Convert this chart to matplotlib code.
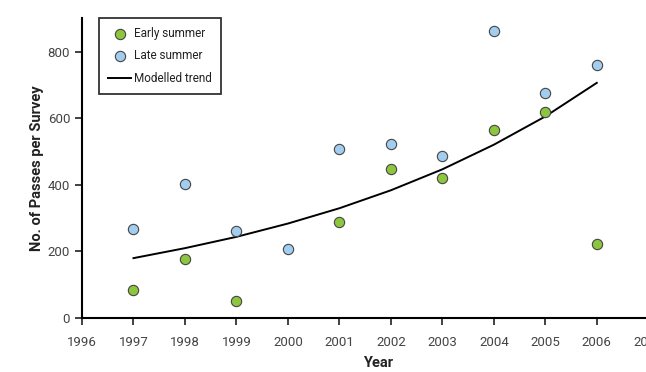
import matplotlib
matplotlib.use("Agg")
import matplotlib.pyplot as plt

years = [1997, 1998, 1999, 2000, 2001, 2002, 2003, 2004, 2005, 2006]
early_years = [1997, 1998, 1999, 2001, 2002, 2003, 2004, 2005, 2006]
early = [84, 177, 51, 289, 448, 421, 565, 620, 223]
late_years = [1997, 1998, 1999, 2000, 2001, 2002, 2003, 2004, 2005, 2006]
late = [268, 403, 262, 208, 508, 523, 487, 863, 677, 761]
trend = [180, 210, 244, 284, 330, 384, 447, 521, 606, 707]
xticks = list(range(1996, 2008))
yticks = [0, 200, 400, 600, 800]

plt.rcParams['font.family'] = ['Roboto', 'DejaVu Sans']
fig = plt.figure(figsize=(6.46, 3.72), dpi=100)
ax = fig.add_axes([82/646, 54/372, 592/646, 300/372])

ax.plot(years, trend, color='black', lw=1.4, label='Modelled trend', zorder=2)
ax.scatter(early_years, early, s=55, color='#8cc63e', edgecolor='#444444', lw=0.8,
           label='Early summer', zorder=3)
ax.scatter(late_years, late, s=55, color='#a3cdee', edgecolor='#444444', lw=0.8,
           label='Late summer', zorder=3)

ax.set_xlim(1996, 2007.5)
ax.set_ylim(0, 902)
ax.set_xticks(xticks)
ax.set_yticks(yticks)
for s in ['top', 'right']:
    ax.spines[s].set_visible(False)
for s in ['left', 'bottom']:
    ax.spines[s].set_linewidth(1.5)
ax.tick_params(axis='both', direction='out', length=5, width=1.3, labelsize=9.5,
               colors='#333333', labelcolor='#444444')
ax.tick_params(axis='x', pad=8)
ax.set_xlabel('Year', fontsize=10.5, fontweight='bold', color='#222222', labelpad=5)
ax.set_ylabel('No. of Passes per Survey', fontsize=10.5, fontweight='bold',
              color='#222222', labelpad=3)

h, l = ax.get_legend_handles_labels()
order = [1, 2, 0]
leg = ax.legend([h[i] for i in order], [l[i] for i in order], loc='upper left',
                bbox_to_anchor=(17/592, 1.0), borderaxespad=0, fontsize=8.5,
                frameon=True, fancybox=False, edgecolor='black', handlelength=2.0,
                handletextpad=0.25, borderpad=0.75, labelspacing=0.8,
                scatterpoints=1)
leg.get_frame().set_linewidth(1.3)
for t in leg.get_texts():
    t.set_color('#222222')

fig.savefig('out.png', dpi=100)
